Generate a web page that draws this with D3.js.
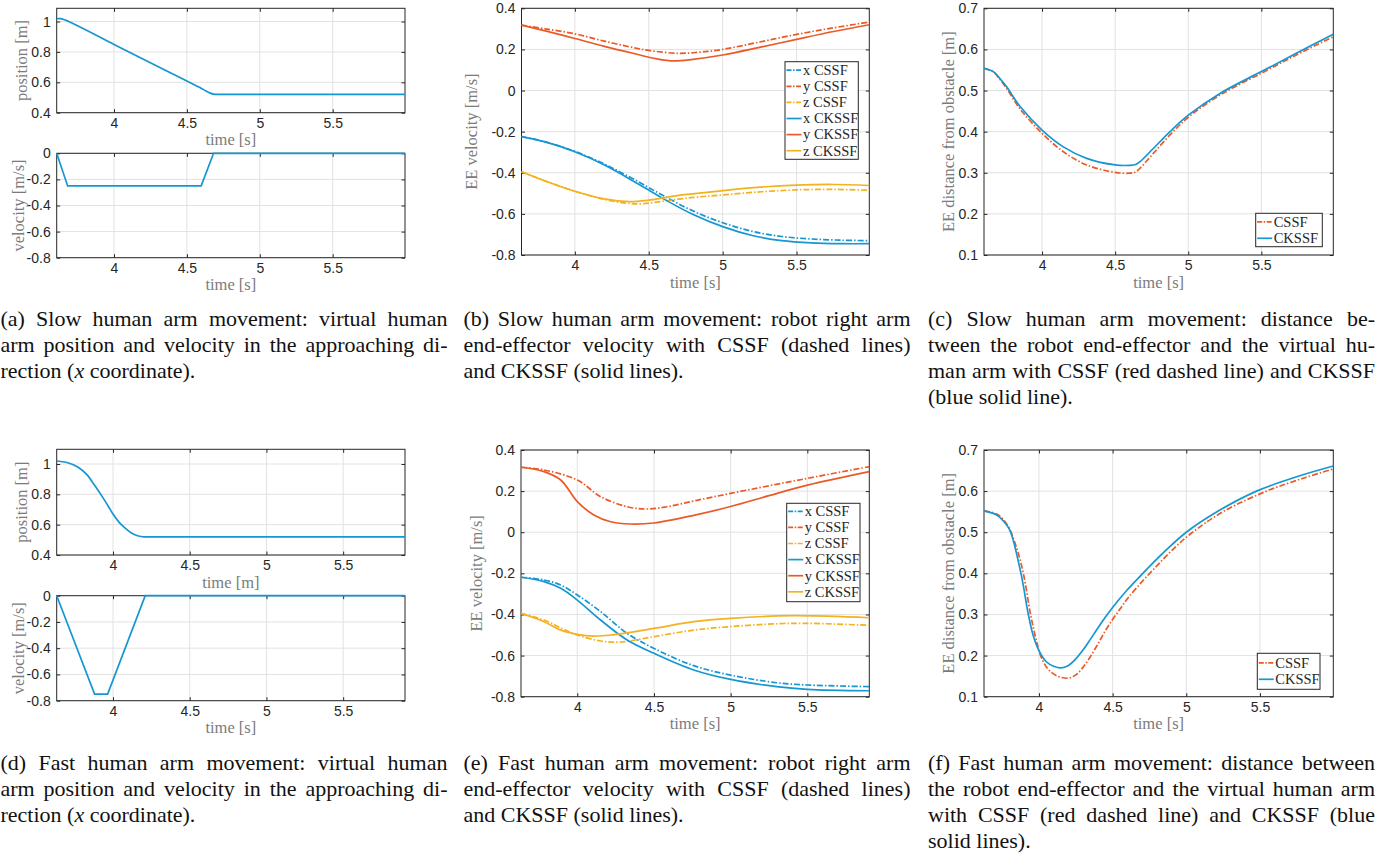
<!DOCTYPE html>
<html>
<head>
<meta charset="utf-8">
<script src="https://cdn.jsdelivr.net/npm/d3@7"></script>
<style>
  body { margin: 0; background: #fff; }
  svg { display: block; }
</style>
</head>
<body>
<script>
// ---- data: [time, value] ----
const xTicks = [4, 4.5, 5, 5.5]
const posTicks = [0.4, 0.6, 0.8, 1]
const velTicks = [-0.8, -0.6, -0.4, -0.2, 0]
const eeVelTicks = [-0.8, -0.6, -0.4, -0.2, 0, 0.2, 0.4]
const distTicks = [0.1, 0.2, 0.3, 0.4, 0.5, 0.6, 0.7]

// (a) slow human arm
const slowPos = [[3.607, 1.02], [3.63, 1.019], [3.66, 1.012], [3.69, 1.0], [3.75, 0.972], [4.0, 0.849], [4.5, 0.608], [4.56, 0.579], [4.6, 0.56], [4.63, 0.543], [4.66, 0.529], [4.69, 0.521], [4.72, 0.52], [5.996, 0.52]]
const slowVel = [[3.607, 0], [3.682, -0.25], [4.598, -0.25], [4.683, 0], [5.996, 0]]

// (b) slow, EE velocity
const bXCssf = [[3.639, -0.224], [3.8, -0.25], [4.0, -0.296], [4.2, -0.358], [4.4, -0.432], [4.6, -0.512], [4.8, -0.586], [5.0, -0.643], [5.2, -0.685], [5.4, -0.71], [5.6, -0.722], [5.8, -0.728], [5.992, -0.73]]
const bYCssf = [[3.639, 0.318], [3.8, 0.3], [4.0, 0.276], [4.2, 0.24], [4.4, 0.208], [4.5, 0.195], [4.7, 0.181], [4.85, 0.187], [5.0, 0.2], [5.25, 0.236], [5.5, 0.273], [5.75, 0.305], [5.992, 0.333]]
const bZCssf = [[3.639, -0.395], [3.8, -0.44], [4.0, -0.49], [4.2, -0.53], [4.35, -0.548], [4.45, -0.551], [4.6, -0.538], [4.8, -0.52], [5.0, -0.508], [5.25, -0.493], [5.5, -0.483], [5.75, -0.481], [5.992, -0.485]]
const bXCkssf = [[3.639, -0.224], [3.8, -0.25], [4.0, -0.298], [4.2, -0.362], [4.4, -0.442], [4.6, -0.527], [4.8, -0.603], [5.0, -0.662], [5.2, -0.705], [5.4, -0.73], [5.6, -0.741], [5.8, -0.745], [5.992, -0.745]]
const bYCkssf = [[3.639, 0.318], [3.8, 0.29], [4.0, 0.253], [4.2, 0.215], [4.4, 0.18], [4.55, 0.155], [4.67, 0.144], [4.8, 0.152], [5.0, 0.173], [5.25, 0.21], [5.5, 0.249], [5.75, 0.287], [5.992, 0.32]]
const bZCkssf = [[3.639, -0.395], [3.8, -0.44], [4.0, -0.49], [4.2, -0.527], [4.37, -0.54], [4.5, -0.533], [4.7, -0.51], [5.0, -0.487], [5.25, -0.47], [5.5, -0.46], [5.75, -0.457], [5.992, -0.462]]

// (c) slow, distance from obstacle
const cCssf = [[3.603, 0.554], [3.667, 0.545], [3.71, 0.528], [3.758, 0.505], [3.85, 0.455], [4.0, 0.396], [4.146, 0.351], [4.305, 0.319], [4.5, 0.301], [4.6, 0.299], [4.64, 0.302], [4.67, 0.311], [4.761, 0.347], [4.875, 0.392], [5.0, 0.435], [5.217, 0.489], [5.5, 0.542], [5.742, 0.587], [5.992, 0.631]]
const cCkssf = [[3.603, 0.554], [3.667, 0.546], [3.71, 0.53], [3.758, 0.509], [3.85, 0.461], [4.0, 0.404], [4.146, 0.363], [4.305, 0.335], [4.5, 0.319], [4.6, 0.318], [4.64, 0.32], [4.67, 0.327], [4.761, 0.359], [4.875, 0.4], [5.0, 0.44], [5.217, 0.493], [5.5, 0.546], [5.742, 0.591], [5.992, 0.637]]

// (d) fast human arm
const fastPos = [[3.633, 1.02], [3.7, 1.01], [3.77, 0.98], [3.83, 0.93], [3.88, 0.86], [3.93, 0.785], [3.97, 0.72], [4.0, 0.67], [4.04, 0.615], [4.08, 0.577], [4.12, 0.545], [4.16, 0.527], [4.2, 0.52], [5.903, 0.52]]
const fastVel = [[3.633, 0], [3.88, -0.75], [3.965, -0.75], [4.21, 0], [5.903, 0]]

// (e) fast, EE velocity
const eXCssf = [[3.635, -0.219], [3.783, -0.232], [3.892, -0.257], [4.0, -0.305], [4.152, -0.386], [4.325, -0.492], [4.5, -0.565], [4.759, -0.649], [5.0, -0.695], [5.3, -0.732], [5.5, -0.743], [5.904, -0.751]]
const eYCssf = [[3.635, 0.316], [3.783, 0.303], [4.0, 0.254], [4.152, 0.173], [4.325, 0.124], [4.455, 0.113], [4.585, 0.124], [4.759, 0.152], [5.0, 0.189], [5.5, 0.262], [5.904, 0.319]]
const eZCssf = [[3.635, -0.395], [3.783, -0.427], [3.9, -0.468], [4.0, -0.5], [4.152, -0.529], [4.282, -0.534], [4.5, -0.508], [4.759, -0.476], [5.0, -0.459], [5.409, -0.443], [5.904, -0.453]]
const eXCkssf = [[3.635, -0.219], [3.783, -0.24], [3.892, -0.273], [4.0, -0.33], [4.152, -0.427], [4.325, -0.524], [4.5, -0.589], [4.759, -0.67], [5.0, -0.716], [5.3, -0.751], [5.5, -0.764], [5.904, -0.771]]
const eYCkssf = [[3.635, 0.316], [3.783, 0.295], [3.892, 0.254], [4.0, 0.149], [4.108, 0.084], [4.217, 0.051], [4.347, 0.04], [4.5, 0.045], [4.759, 0.082], [5.0, 0.125], [5.25, 0.178], [5.5, 0.229], [5.904, 0.295]]
const eZCkssf = [[3.635, -0.395], [3.783, -0.435], [3.892, -0.476], [4.0, -0.497], [4.108, -0.505], [4.217, -0.5], [4.5, -0.468], [4.759, -0.435], [5.0, -0.419], [5.409, -0.406], [5.904, -0.416]]

// (f) fast, distance from obstacle
const fCssf = [[3.627, 0.552], [3.72, 0.543], [3.79, 0.515], [3.85, 0.46], [3.894, 0.4], [3.943, 0.3], [3.98, 0.24], [4.011, 0.2], [4.06, 0.168], [4.12, 0.151], [4.2, 0.145], [4.25, 0.153], [4.3, 0.172], [4.35, 0.198], [4.4, 0.228], [4.45, 0.26], [4.5, 0.288], [4.55, 0.313], [4.6, 0.338], [4.7, 0.38], [4.8, 0.418], [4.9, 0.455], [5.025, 0.495], [5.25, 0.55], [5.545, 0.6], [5.8, 0.632], [5.998, 0.654]]
const fCkssf = [[3.627, 0.552], [3.713, 0.542], [3.78, 0.518], [3.808, 0.5], [3.878, 0.4], [3.928, 0.3], [3.96, 0.25], [4.0, 0.212], [4.05, 0.185], [4.1, 0.174], [4.15, 0.17], [4.2, 0.176], [4.25, 0.192], [4.3, 0.214], [4.35, 0.24], [4.4, 0.267], [4.45, 0.293], [4.5, 0.317], [4.6, 0.36], [4.7, 0.398], [4.85, 0.452], [5.0, 0.5], [5.2, 0.548], [5.477, 0.6], [5.75, 0.635], [5.998, 0.661]]

// captions
const captionA = ['(a) Slow human arm movement: virtual human', 'arm position and velocity in the approaching di-', 'rection (_x_ coordinate).']
const captionB = ['(b) Slow human arm movement: robot right arm', 'end-effector velocity with CSSF (dashed lines)', 'and CKSSF (solid lines).']
const captionC = ['(c) Slow human arm movement: distance be-', 'tween the robot end-effector and the virtual hu-', 'man arm with CSSF (red dashed line) and CKSSF', '(blue solid line).']
const captionD = ['(d) Fast human arm movement: virtual human', 'arm position and velocity in the approaching di-', 'rection (_x_ coordinate).']
const captionE = ['(e) Fast human arm movement: robot right arm', 'end-effector velocity with CSSF (dashed lines)', 'and CKSSF (solid lines).']
const captionF = ['(f) Fast human arm movement: distance between', 'the robot end-effector and the virtual human arm', 'with CSSF (red dashed line) and CKSSF (blue', 'solid lines).']

// ---- styles ----
const blue = '#1696d2'
const red = '#eb5a26'
const yellow = '#f3b21e'
const dashDot = '6,2,1.5,2'
const axisColor = '#262626'
const gridColor = '#e2e2e2'
const labelColor = '#7b7b7b'
const tickFont = 'Liberation Sans, Arial, sans-serif'
const serif = 'Liberation Serif, DejaVu Serif, serif'
const smooth = d3.curveCatmullRom.alpha(0.5)

const svg = d3.select('body').append('svg')
  .attr('width', 1392)
  .attr('height', 855)

const fmt = function (d) { return String(+d.toFixed(2)) }
const lineGen = function (x, y, curve) {
  return d3.line()
    .x(function (d) { return x(d[0]) })
    .y(function (d) { return y(d[1]) })
    .curve(curve)
}

const drawPanel = function (p) {
  const g = svg.append('g')
  const x = d3.scaleLinear().domain(p.xDomain).range([p.left, p.right])
  const y = d3.scaleLinear().domain(p.yDomain).range([p.bottom, p.top])

  // grid
  g.selectAll('line.gx').data(xTicks).enter().append('line')
    .attr('x1', function (d) { return x(d) }).attr('x2', function (d) { return x(d) })
    .attr('y1', p.top).attr('y2', p.bottom)
    .attr('stroke', gridColor)
  g.selectAll('line.gy').data(p.yTicks).enter().append('line')
    .attr('y1', function (d) { return y(d) }).attr('y2', function (d) { return y(d) })
    .attr('x1', p.left).attr('x2', p.right)
    .attr('stroke', gridColor)

  // axes with inward ticks
  const xAxis = d3.axisBottom(x).tickValues(xTicks).tickFormat(fmt)
    .tickSizeInner(-3.5).tickSizeOuter(0).tickPadding(5)
  const yAxis = d3.axisLeft(y).tickValues(p.yTicks).tickFormat(fmt)
    .tickSizeInner(-3.5).tickSizeOuter(0).tickPadding(6)
  const xTop = d3.axisTop(x).tickValues(xTicks).tickFormat('').tickSizeInner(-3.5).tickSizeOuter(0)
  const yRight = d3.axisRight(y).tickValues(p.yTicks).tickFormat('').tickSizeInner(-3.5).tickSizeOuter(0)

  const axes = [
    g.append('g').attr('transform', `translate(0, ${p.bottom})`).call(xAxis),
    g.append('g').attr('transform', `translate(${p.left}, 0)`).call(yAxis),
    g.append('g').attr('transform', `translate(0, ${p.top})`).call(xTop),
    g.append('g').attr('transform', `translate(${p.right}, 0)`).call(yRight)
  ]
  axes.forEach(function (a) {
    a.select('.domain').remove()
    a.attr('font-family', tickFont).attr('font-size', 14)
    a.selectAll('line').attr('stroke', axisColor)
    a.selectAll('text').attr('fill', axisColor)
  })

  g.append('rect')
    .attr('x', p.left).attr('y', p.top)
    .attr('width', p.right - p.left).attr('height', p.bottom - p.top)
    .attr('fill', 'none').attr('stroke', axisColor).attr('stroke-width', 1)

  // labels
  g.append('text')
    .attr('x', (p.left + p.right) / 2).attr('y', p.bottom + 32.5)
    .attr('text-anchor', 'middle')
    .attr('font-family', serif).attr('font-size', 16.5)
    .attr('fill', labelColor)
    .text(p.xLabel)
  g.append('text')
    .attr('transform', `translate(${p.yLabelX}, ${(p.top + p.bottom) / 2}) rotate(-90)`)
    .attr('text-anchor', 'middle')
    .attr('font-family', serif).attr('font-size', 16.5)
    .attr('fill', labelColor)
    .text(p.yLabel)

  // series
  p.series.forEach(function (s) {
    g.append('path')
      .datum(s.data)
      .attr('d', lineGen(x, y, s.curve || smooth))
      .attr('fill', 'none')
      .attr('stroke', s.color)
      .attr('stroke-width', 1.7)
      .attr('stroke-dasharray', s.dash ? dashDot : null)
  })

  // legend
  if (p.legend) {
    const L = p.legend
    const lg = g.append('g')
    lg.append('rect')
      .attr('x', L.x).attr('y', L.y).attr('width', L.w).attr('height', L.h)
      .attr('fill', '#fff').attr('stroke', axisColor).attr('stroke-width', 1)
    p.series.forEach(function (s, i) {
      const cy = L.y + L.first + i * L.step
      lg.append('line')
        .attr('x1', L.x + 1.5).attr('x2', L.x + 16.5)
        .attr('y1', cy).attr('y2', cy)
        .attr('stroke', s.color).attr('stroke-width', 1.7)
        .attr('stroke-dasharray', s.dash ? '5,1.5,1.5,1.5' : null)
      lg.append('text')
        .attr('x', L.x + 18).attr('y', cy + 4.8)
        .attr('font-family', serif).attr('font-size', 14.5)
        .attr('fill', axisColor)
        .text(s.name)
    })
  }
}

const velSeries = function (xc, yc, zc, xk, yk, zk) {
  return [
    { data: xc, color: blue, dash: true, name: 'x CSSF' },
    { data: yc, color: red, dash: true, name: 'y CSSF' },
    { data: zc, color: yellow, dash: true, name: 'z CSSF' },
    { data: xk, color: blue, name: 'x CKSSF' },
    { data: yk, color: red, name: 'y CKSSF' },
    { data: zk, color: yellow, name: 'z CKSSF' }
  ]
}
const distSeries = function (c, k) {
  return [
    { data: c, color: red, dash: true, name: 'CSSF' },
    { data: k, color: blue, name: 'CKSSF' }
  ]
}

const panels = [
  { left: 56.7, right: 405, top: 8.3, bottom: 112.7, xDomain: [3.607, 5.996], yDomain: [0.4, 1.087], yTicks: posTicks,
    xLabel: 'time [s]', yLabel: 'position [m]', yLabelX: 27, series: [{ data: slowPos, color: blue, curve: d3.curveMonotoneX }] },
  { left: 56.7, right: 405, top: 153.3, bottom: 257.7, xDomain: [3.607, 5.996], yDomain: [-0.8, 0], yTicks: velTicks,
    xLabel: 'time [s]', yLabel: 'velocity [m/s]', yLabelX: 24, series: [{ data: slowVel, color: blue, curve: d3.curveLinear }] },
  { left: 521.5, right: 869.3, top: 8.3, bottom: 255, xDomain: [3.639, 5.992], yDomain: [-0.8, 0.4], yTicks: eeVelTicks,
    xLabel: 'time [s]', yLabel: 'EE velocity [m/s]', yLabelX: 477,
    series: velSeries(bXCssf, bYCssf, bZCssf, bXCkssf, bYCkssf, bZCkssf),
    legend: { x: 785, y: 61.7, w: 73.3, h: 97.6, first: 8.5, step: 16.1 } },
  { left: 984, right: 1333.3, top: 8.3, bottom: 255, xDomain: [3.603, 5.992], yDomain: [0.1, 0.7], yTicks: distTicks,
    xLabel: 'time [s]', yLabel: 'EE distance from obstacle [m]', yLabelX: 953.5,
    series: distSeries(cCssf, cCkssf),
    legend: { x: 1255.7, y: 213.3, w: 66.6, h: 33.4, first: 8.5, step: 16.5 } },
  { left: 56.7, right: 405, top: 449.3, bottom: 555, xDomain: [3.633, 5.903], yDomain: [0.4, 1.097], yTicks: posTicks,
    xLabel: 'time [m]', yLabel: 'position [m]', yLabelX: 27, series: [{ data: fastPos, color: blue, curve: d3.curveMonotoneX }] },
  { left: 56.7, right: 405, top: 595.7, bottom: 700.7, xDomain: [3.633, 5.903], yDomain: [-0.8, 0], yTicks: velTicks,
    xLabel: 'time [s]', yLabel: 'velocity [m/s]', yLabelX: 23.5, series: [{ data: fastVel, color: blue, curve: d3.curveLinear }] },
  { left: 521, right: 869.3, top: 450, bottom: 696.7, xDomain: [3.633, 5.904], yDomain: [-0.8, 0.4], yTicks: eeVelTicks,
    xLabel: 'time [s]', yLabel: 'EE velocity [m/s]', yLabelX: 482,
    series: velSeries(eXCssf, eYCssf, eZCssf, eXCkssf, eYCkssf, eZCkssf),
    legend: { x: 786.7, y: 503.3, w: 73.3, h: 98.4, first: 8, step: 16.1 } },
  { left: 984, right: 1333.3, top: 450, bottom: 696.7, xDomain: [3.627, 5.998], yDomain: [0.1, 0.7], yTicks: distTicks,
    xLabel: 'time [s]', yLabel: 'EE distance from obstacle [m]', yLabelX: 953.5,
    series: distSeries(fCssf, fCkssf),
    legend: { x: 1257.3, y: 653.3, w: 62.7, h: 36, first: 9.5, step: 16.5 } }
]
panels.forEach(drawPanel)

// ---- justified captions ----
const capSize = 22
const capWidth = 447
const capGap = 26
const drawCaption = function (lines, x0, y0) {
  const g = svg.append('g')
    .attr('font-family', serif)
    .attr('font-size', capSize)
    .attr('fill', '#111')
  lines.forEach(function (line, i) {
    const words = line.split(' ')
    const nodes = words.map(function (w) {
      const t = g.append('text').attr('y', y0 + i * capGap)
      w.split('_').forEach(function (part, k) {
        if (part) t.append('tspan').attr('font-style', k % 2 ? 'italic' : 'normal').text(part)
      })
      return t
    })
    const widths = nodes.map(function (n) { return n.node().getComputedTextLength() })
    const justify = i < lines.length - 1
    const gap = justify ? (capWidth - d3.sum(widths)) / (words.length - 1) : capSize * 0.25
    let cx = x0
    nodes.forEach(function (n, k) {
      n.attr('x', cx)
      cx += widths[k] + gap
    })
  })
}
drawCaption(captionA, 0.5, 326)
drawCaption(captionB, 463.5, 326)
drawCaption(captionC, 928, 326)
drawCaption(captionD, 0.5, 770)
drawCaption(captionE, 463.5, 770)
drawCaption(captionF, 928, 770)
</script>
</body>
</html>
